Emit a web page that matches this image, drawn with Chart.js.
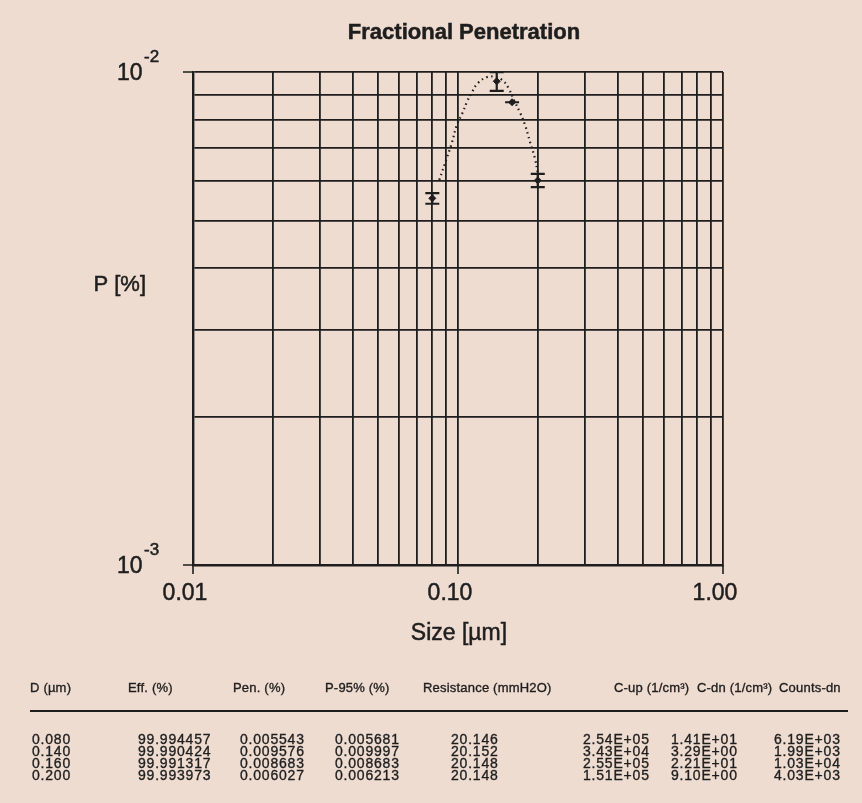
<!DOCTYPE html>
<html>
<head>
<meta charset="utf-8">
<script src="https://cdn.jsdelivr.net/npm/chart.js@4.4.1/dist/chart.umd.min.js"></script>
<style>
    body {
        margin: 0;
        background: #efdcd1;
        font-family: "Liberation Sans", Arial, sans-serif;
        color: #1e1e1e;
    }
    #wrap {
        position: relative;
        width: 862px;
        height: 803px;
        overflow: hidden;
    }
    #chart {
        position: absolute;
        left: 0;
        top: 0;
    }
    .cell {
        position: absolute;
        white-space: nowrap;
        line-height: 12px;
        -webkit-text-stroke: 0.35px #1e1e1e;
    }
    .hd {
        font-size: 13px;
        letter-spacing: 0.2px;
    }
    .val {
        font-size: 14px;
        letter-spacing: 0.8px;
    }
    #rule {
        position: absolute;
        left: 30px;
        top: 710px;
        width: 818px;
        height: 2px;
        background: #1e1e1e;
    }
</style>
</head>
<body>
<div id="wrap">
    <canvas id="chart" width="862" height="803"></canvas>
    <div id="rule"></div>
</div>
<script>
// measured points
const diam = [0.080, 0.140, 0.160, 0.200];
const pen = [0.005543, 0.009576, 0.008683, 0.006027];
const p95 = [0.005681, 0.009997, 0.008683, 0.006213];

// dotted fit curve
const curveX = [0.085, 0.091, 0.095, 0.099, 0.104, 0.108, 0.113, 0.119, 0.129, 0.138, 0.147, 0.155, 0.164, 0.171, 0.179, 0.187, 0.195, 0.200];
const curveY = [0.00604, 0.00672, 0.00721, 0.00781, 0.00826, 0.00869, 0.00911, 0.00950, 0.00977, 0.00977, 0.00963, 0.00928, 0.00869, 0.00830, 0.00781, 0.00721, 0.00669, 0.00624];

// axis labels
const xTicks = [0.01, 0.1, 1];
const xTickLabels = ['0.01', '0.10', '1.00'];
const yTicks = [0.01, 0.001];
const yTickExps = ['-2', '-3'];

// table under the chart
const headers = ['D (µm)', 'Eff. (%)', 'Pen. (%)', 'P-95% (%)', 'Resistance (mmH2O)', 'C-up (1/cm³)', 'C-dn (1/cm³)', 'Counts-dn'];
const colD = ['0.080', '0.140', '0.160', '0.200'];
const colEff = ['99.994457', '99.990424', '99.991317', '99.993973'];
const colPen = ['0.005543', '0.009576', '0.008683', '0.006027'];
const colP95 = ['0.005681', '0.009997', '0.008683', '0.006213'];
const colRes = ['20.146', '20.152', '20.148', '20.148'];
const colCup = ['2.54E+05', '3.43E+04', '2.55E+05', '1.51E+05'];
const colCdn = ['1.41E+01', '3.29E+00', '2.21E+01', '9.10E+00'];
const colCounts = ['6.19E+03', '1.99E+03', '1.03E+04', '4.03E+03'];

const INK = '#1e1e1e';
const FONT = '"Liberation Sans", Arial, sans-serif';

// table layout
const headX = [30, 128, 233, 325, 423, 614, 697, 779];
const valX = [32, 138, 240, 335, 451, 583, 671, 774];
const wrap = document.getElementById('wrap');

headers.forEach((h, i) => {
    wrap.insertAdjacentHTML('beforeend',
        `<div class="cell hd" style="left:${headX[i]}px;top:682px">${h}</div>`);
});
[colD, colEff, colPen, colP95, colRes, colCup, colCdn, colCounts].forEach((col, c) => {
    col.forEach((v, r) => {
        wrap.insertAdjacentHTML('beforeend',
            `<div class="cell val" style="left:${valX[c]}px;top:${733 + r * 12}px">${v}</div>`);
    });
});

function logGrid(lo, hi) {
    const out = [];
    for (let e = Math.round(Math.log10(lo)); e < Math.round(Math.log10(hi)); e++) {
        for (let s = 1; s < 10; s++) out.push(s * Math.pow(10, e));
    }
    out.push(hi);
    return out;
}

function heavyText(ctx, text, x, y) {
    ctx.fillText(text, x, y);
    ctx.strokeText(text, x, y);
}

const decor = {
    id: 'decor',
    afterDatasetsDraw(chart) {
        const ctx = chart.ctx;
        const xs = chart.scales.x;
        const ys = chart.scales.y;
        const area = chart.chartArea;
        ctx.save();
        ctx.strokeStyle = INK;
        ctx.fillStyle = INK;

        // error bars
        ctx.lineWidth = 2.2;
        diam.forEach((d, i) => {
            const x = xs.getPixelForValue(d);
            const yUp = ys.getPixelForValue(p95[i]);
            const yLo = ys.getPixelForValue(2 * pen[i] - p95[i]);
            ctx.beginPath();
            ctx.moveTo(x, yUp);
            ctx.lineTo(x, yLo);
            ctx.moveTo(x - 7, yUp);
            ctx.lineTo(x + 7, yUp);
            ctx.moveTo(x - 7, yLo);
            ctx.lineTo(x + 7, yLo);
            ctx.stroke();
        });

        // outside ticks
        ctx.lineWidth = 1.6;
        ctx.beginPath();
        yTicks.forEach(v => {
            const y = ys.getPixelForValue(v);
            ctx.moveTo(area.left - 10, y);
            ctx.lineTo(area.left, y);
        });
        xTicks.forEach(v => {
            const x = xs.getPixelForValue(v);
            ctx.moveTo(x, area.bottom);
            ctx.lineTo(x, area.bottom + 9);
        });
        ctx.stroke();

        ctx.lineWidth = 0.5;
        // title
        ctx.textAlign = 'center';
        ctx.textBaseline = 'middle';
        ctx.font = `bold 22px ${FONT}`;
        heavyText(ctx, 'Fractional Penetration', 464, 33);

        // x tick labels
        ctx.font = `23px ${FONT}`;
        xTicks.forEach((v, i) => {
            heavyText(ctx, xTickLabels[i], xs.getPixelForValue(v) - 8, 594);
        });
        heavyText(ctx, 'Size [µm]', 459, 634);

        // y tick labels 10^n
        yTicks.forEach((v, i) => {
            const y = ys.getPixelForValue(v);
            ctx.textAlign = 'left';
            ctx.font = `23px ${FONT}`;
            heavyText(ctx, '10', 117, y + 2);
            ctx.font = `17px ${FONT}`;
            heavyText(ctx, yTickExps[i], 144, y - 15);
        });

        ctx.textAlign = 'right';
        ctx.font = `22px ${FONT}`;
        heavyText(ctx, 'P [%]', 146, 285);
        ctx.restore();
    }
};

new Chart(document.getElementById('chart'), {
    type: 'scatter',
    data: {
        datasets: [{
            data: curveX.map((x, i) => ({x, y: curveY[i]})),
            showLine: true,
            borderColor: INK,
            borderWidth: 2.2,
            borderDash: [1.5, 3.5],
            tension: 0.4,
            pointRadius: 0
        }, {
            data: diam.map((x, i) => ({x, y: pen[i]})),
            showLine: false,
            pointStyle: 'rectRot',
            pointRadius: 3.5,
            backgroundColor: INK,
            borderColor: INK
        }]
    },
    options: {
        responsive: false,
        animation: false,
        layout: {
            padding: {left: 193, right: 139, top: 72, bottom: 238}
        },
        plugins: {
            legend: {display: false},
            tooltip: {enabled: false}
        },
        scales: {
            x: {
                type: 'logarithmic',
                min: 0.01,
                max: 1,
                afterBuildTicks: scale => {
                    scale.ticks = logGrid(0.01, 1).map(value => ({value}));
                },
                grid: {color: INK, lineWidth: 1.8, drawTicks: false},
                border: {color: INK, width: 2.4},
                ticks: {display: false}
            },
            y: {
                type: 'logarithmic',
                min: 0.001,
                max: 0.01,
                afterBuildTicks: scale => {
                    scale.ticks = logGrid(0.001, 0.01).map(value => ({value}));
                },
                grid: {color: INK, lineWidth: 1.8, drawTicks: false},
                border: {color: INK, width: 2.4},
                ticks: {display: false}
            }
        }
    },
    plugins: [decor]
});
</script>
</body>
</html>
